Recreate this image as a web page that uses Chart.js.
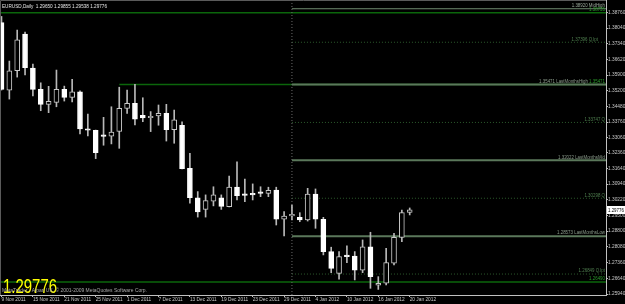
<!DOCTYPE html>
<html>
<head>
<meta charset="utf-8">
<script src="https://cdn.jsdelivr.net/npm/chart.js@4.4.0/dist/chart.umd.min.js"></script>
<style>
html, body { margin: 0; padding: 0; background: #000; }
</style>
</head>
<body>
<canvas id="c" width="625" height="304"></canvas>
<script>
// EURUSD Daily, 9 Nov 2011 .. 20 Jan 2012 (one entry per bar)
const opens  = [1.3829,1.3522,1.3610,1.3777,1.3622,1.3525,1.3457,1.3466,1.3525,1.3489,
                1.3514,1.3345,1.3339,1.3314,1.3312,1.3334,1.3439,1.3462,1.3407,1.3396,
                1.3404,1.3416,1.3342,1.3362,1.3166,1.3032,1.2979,1.3016,1.3032,1.2991,
                1.3080,1.3048,1.3049,1.3053,1.3052,1.3067,1.2934,1.2949,1.2943,1.2931,
                1.3049,1.2934,1.2787,1.2688,1.2765,1.2767,1.2703,1.2809,1.2634,1.2643,
                1.2734,1.2852,1.29650];
const highs  = [1.3857,1.3654,1.3795,1.3786,1.3640,1.3555,1.3539,1.3613,1.3540,1.3571,
                1.3518,1.3413,1.3340,1.3398,1.3446,1.3535,1.3522,1.3548,1.3487,1.3424,
                1.3454,1.3457,1.3431,1.3377,1.3234,1.3060,1.3045,1.3082,1.3045,1.3131,
                1.3196,1.3117,1.3095,1.3082,1.3080,1.3080,1.2969,1.2999,1.2964,1.3075,
                1.3072,1.2943,1.2807,1.2787,1.2813,1.2787,1.2840,1.2875,1.2673,1.2802,
                1.2870,1.2976,1.29855];
const lows   = [1.3522,1.3481,1.3581,1.3591,1.3495,1.3428,1.3419,1.3446,1.3472,1.3468,
                1.3322,1.3313,1.3210,1.3271,1.3277,1.3257,1.3416,1.3363,1.3378,1.3333,
                1.3362,1.3290,1.3280,1.3163,1.3007,1.2944,1.2944,1.2995,1.2979,1.2990,
                1.3022,1.3014,1.3022,1.3037,1.3037,1.2908,1.2858,1.2931,1.2923,1.2926,
                1.2893,1.2772,1.2691,1.2661,1.2737,1.2658,1.2691,1.2620,1.2615,1.2635,
                1.2726,1.2832,1.29538];
const closes = [1.3525,1.3610,1.3750,1.3624,1.3525,1.3457,1.3471,1.3525,1.3489,1.3514,
                1.3345,1.3339,1.3237,1.3311,1.3331,1.3439,1.3462,1.3390,1.3395,1.3399,
                1.3416,1.3342,1.3386,1.3164,1.3032,1.2967,1.3019,1.3045,1.2993,1.3080,
                1.3041,1.3043,1.3045,1.3052,1.3066,1.2934,1.2949,1.2957,1.2931,1.3049,
                1.2934,1.2787,1.2711,1.2764,1.2764,1.2703,1.2809,1.2673,1.2643,1.2737,
                1.2852,1.2964,1.29776];

const dateLabels = ['9 Nov 2011','15 Nov 2011','21 Nov 2011','25 Nov 2011','1 Dec 2011',
                    '7 Dec 2011','13 Dec 2011','19 Dec 2011','23 Dec 2011','29 Dec 2011',
                    '4 Jan 2012','10 Jan 2012','16 Jan 2012','20 Jan 2012'];
const dateTickBars = [0,4,8,12,16,20,24,28,32,36,40,44,48,52];
const priceTicks = [1.2594,1.2664,1.2736,1.2808,1.2880,1.2950,1.3022,1.3094,1.3164,1.3236,
                    1.3306,1.3376,1.3448,1.3520,1.3590,1.3662,1.3734,1.3804,1.3876];

// horizontal levels drawn on the chart
const levelValues = [1.38920,1.38735,1.37396,1.35471,1.35471,1.33747,1.32022,1.30298,1.28573,1.26849,1.26490];
const levelTexts  = ['1.38920 MidHigh','1.38735','1.37396 Q.lpt','1.35471 LastMonthsHigh','1.35471',
                     '1.33747 Q','1.32022 LastMonthsMid','1.30298 Q','1.28573 LastMonthsLow','1.26849 Q.lpt','1.26490'];
const levelStartBar = [37,null,37,37,15,37,37,37,37,37,null];
const separatorBar = 37;

const symbolText = 'EURUSD,Daily  1.29650 1.29855 1.29538 1.29776';
const copyrightText = 'MetaTrader - Alpari UK, \u00a9 2001-2009 MetaQuotes Software Corp.';
const lastPrice = closes[closes.length - 1];

// looks
const FONT = '"Liberation Sans", Arial, sans-serif';
const SQUEEZE = 0.8;
const soft = {color: '#5b785b', width: 2, dash: [], text: '#8c9c8c'};
const dark = {color: '#0b660b', width: 1.5, dash: [], text: '#2a9a2a'};
const dots = {color: '#2c5a2c', width: 1, dash: [1, 2], text: '#4f7f4f'};
const mid  = {color: '#6f8a6f', width: 1, dash: [], text: '#9aa89a'};
const levelStyle = [mid, dark, dots, soft, dark, dots, soft, dots, soft, dots, dark];
const labelRightPad = [1, 1, 8, 18, 1, 1, 1, 1, 1, 1, 1];

const yMin = 1.25895, yMax = 1.39318;
const xMin = -0.191, xMax = 77.006;

const idx = opens.map((_, i) => i);
const wickData = idx.map(i => ({x: i, y: [lows[i], highs[i]]}));
const bodyData = idx.map(i => ({x: i, y: [Math.min(opens[i], closes[i]), Math.max(opens[i], closes[i])]}));
const bodyFill = idx.map(i => closes[i] > opens[i] ? '#000000' : '#ffffff');
const bodyEdge = idx.map(i => closes[i] > opens[i] ? '#c8c8c8' : '#ffffff');

const levelSets = levelValues.map((v, k) => ({
  type: 'line',
  data: [{x: levelStartBar[k] === null ? xMin : levelStartBar[k], y: v}, {x: xMax, y: v}],
  borderColor: levelStyle[k].color,
  borderWidth: levelStyle[k].width,
  borderDash: levelStyle[k].dash,
  pointRadius: 0,
  fill: false,
  order: 5
}));

// text squeezed horizontally, like the narrow screenshot fonts
function squeezed(ctx, text, x, y, align, sx) {
  ctx.save();
  ctx.translate(x, y);
  ctx.scale(sx, 1);
  ctx.textAlign = align;
  ctx.fillText(text, 0, 0);
  ctx.restore();
}
function fitted(ctx, text, x, y, width) {
  squeezed(ctx, text, x, y, 'left', width / ctx.measureText(text).width);
}

const bgPlugin = {
  id: 'bg',
  beforeDraw(chart) {
    const ctx = chart.ctx;
    ctx.save();
    ctx.fillStyle = '#000';
    ctx.fillRect(0, 0, chart.width, chart.height);
    ctx.restore();
  }
};

const overlay = {
  id: 'overlay',
  afterDatasetsDraw(chart) {
    const ctx = chart.ctx, y = chart.scales.y, area = chart.chartArea;
    ctx.save();
    // level captions, right aligned against the price axis
    ctx.font = '5.5px ' + FONT;
    ctx.textBaseline = 'bottom';
    levelValues.forEach((v, k) => {
      ctx.fillStyle = levelStyle[k].text;
      squeezed(ctx, levelTexts[k], area.right - labelRightPad[k], y.getPixelForValue(v) - 0.5, 'right', SQUEEZE);
    });
    ctx.textBaseline = 'alphabetic';
    // symbol header
    ctx.fillStyle = '#e6e6e6';
    ctx.font = '6px ' + FONT;
    fitted(ctx, symbolText, 2, 7.5, 105);
    // big last price
    ctx.fillStyle = '#ffff00';
    ctx.font = '19.5px ' + FONT;
    fitted(ctx, lastPrice.toFixed(5), 3, 293, 54);
    ctx.fillStyle = '#a8a8a8';
    ctx.font = '5px ' + FONT;
    fitted(ctx, copyrightText, 2, 292, 145);
    // frame
    ctx.strokeStyle = '#5a5a5a';
    ctx.lineWidth = 1;
    ctx.beginPath();
    ctx.moveTo(0.5, area.bottom);
    ctx.lineTo(0.5, 0.5);
    ctx.lineTo(area.right, 0.5);
    ctx.stroke();
    ctx.restore();
  },
  afterDraw(chart) {
    const ctx = chart.ctx, y = chart.scales.y, area = chart.chartArea;
    const py = Math.round(y.getPixelForValue(lastPrice));
    ctx.save();
    ctx.fillStyle = '#ffffff';
    ctx.fillRect(area.right + 1, py - 4, chart.width - area.right - 1, 8);
    ctx.fillStyle = '#000000';
    ctx.font = '5.5px ' + FONT;
    ctx.textBaseline = 'middle';
    squeezed(ctx, lastPrice.toFixed(5), area.right + 2, py, 'left', SQUEEZE);
    ctx.restore();
  }
};

new Chart(document.getElementById('c'), {
  type: 'bar',
  data: {
    datasets: [
      ...levelSets,
      {
        type: 'line',
        data: [{x: separatorBar, y: yMin}, {x: separatorBar, y: yMax}],
        borderColor: '#6a6a6a', borderWidth: 1, borderDash: [1, 2],
        pointRadius: 0, fill: false, order: 4
      },
      {
        data: wickData, barThickness: 1, grouped: false,
        backgroundColor: '#b8b8b8', borderWidth: 0, order: 2
      },
      {
        data: bodyData, barThickness: 5, grouped: false, minBarLength: 1.5,
        backgroundColor: bodyFill, borderColor: bodyEdge, borderWidth: 1,
        borderSkipped: false, order: 1
      }
    ]
  },
  options: {
    responsive: false,
    devicePixelRatio: 1,
    animation: false,
    events: [],
    layout: {padding: 0},
    plugins: {legend: {display: false}, tooltip: {enabled: false}},
    scales: {
      x: {
        type: 'linear', min: xMin, max: xMax, offset: false,
        afterBuildTicks(s) { s.ticks = dateTickBars.map(v => ({value: v})); },
        afterFit(s) { s.height = 9; s.paddingLeft = 0; s.paddingRight = 0; },
        ticks: {
          autoSkip: false, maxRotation: 0, align: 'start', padding: 0,
          color: '#c8c8c8', font: {family: FONT, size: 4.8},
          callback: (v, i) => dateLabels[i]
        },
        grid: {drawOnChartArea: false, drawTicks: true, tickLength: 2, color: '#c0c0c0', offset: false},
        border: {color: '#c0c0c0', width: 1}
      },
      y: {
        position: 'right', min: yMin, max: yMax,
        afterBuildTicks(s) { s.ticks = priceTicks.map(v => ({value: v})); },
        afterFit(s) { s.width = 19; s.paddingTop = 0; s.paddingBottom = 0; },
        ticks: {
          padding: 0, crossAlign: 'near', color: '#c8c8c8',
          font: {family: FONT, size: 4.8},
          callback: v => v.toFixed(5)
        },
        grid: {drawOnChartArea: false, drawTicks: true, tickLength: 2, color: '#c0c0c0'},
        border: {color: '#c0c0c0', width: 1}
      }
    }
  },
  plugins: [bgPlugin, overlay]
});
</script>
</body>
</html>
